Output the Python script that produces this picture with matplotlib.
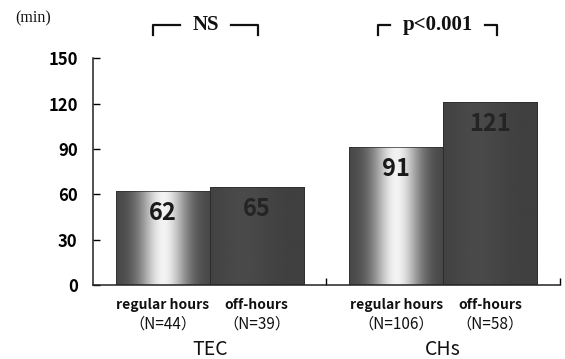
"""
Door-to-treatment time by group and hours, cylinder-shaded bars
"""

import numpy as np
import matplotlib.pyplot as plt
from matplotlib.colors import LinearSegmentedColormap

groups = ['TEC', 'CHs']
hours = ['regular hours', 'off-hours']
counts = [['（N=44）', '（N=39）'], ['（N=106）', '（N=58）']]
minutes = [[62, 65], [91, 121]]
tests = ['NS', 'p<0.001']
y_ticks = [0, 30, 60, 90, 120, 150]

sans = ['Noto Sans CJK JP', 'DejaVu Sans']
serif = ['Liberation Serif', 'DejaVu Serif']

fig = plt.figure(figsize=(5.65, 3.59), dpi=100)
ax = fig.add_axes([0.1646, 0.206, 0.8264, 0.632])

width = 0.403
t = np.linspace(0, 1, 200)
# shading profiles across the bar width (regular = bright highlight, off = dark)
shade_regular = 0.27 + 0.68 * np.exp(-((t - 0.5) / 0.25) ** 2)
shade_off = 0.25 + 0.04 * np.exp(-((t - 0.35) / 0.3) ** 2)
grey = LinearSegmentedColormap.from_list('grey', ['black', 'white'])

for gi, group in enumerate(groups):
    center = gi + 0.5
    for hi in range(len(hours)):
        x = center + (hi - 0.5) * width
        val = minutes[gi][hi]
        bar = ax.bar(x, val, width=width, color='none',
                     edgecolor='#2a2a2a', linewidth=0.5, zorder=3)[0]
        prof = shade_regular if hi == 0 else shade_off
        img = ax.imshow(prof[np.newaxis, :], cmap=grey, vmin=0, vmax=1,
                        extent=[x - width / 2, x + width / 2, 0, val],
                        aspect='auto', interpolation='bicubic', zorder=2)
        img.set_clip_path(bar)
        ax.text(x, val - 14.5, str(val), ha='center', va='center',
                fontsize=17, fontweight='bold', family=sans,
                color='#1a1a1a' if hi == 0 else '#242424', zorder=4)
        ax.text(x, -13, hours[hi], ha='center', va='center', fontsize=10,
                fontweight='bold', family=sans, color='#111')
        ax.text(x, -25.5, counts[gi][hi], ha='center', va='center',
                fontsize=11, family=sans, color='#111')
    ax.text(center, -42.5, group, ha='center', va='center', fontsize=14,
            family=sans, color='#111')

# significance brackets above the groups
bracket_x = [(0.257, 0.707), (1.221, 1.730)]
for (x0, x1), label in zip(bracket_x, tests):
    mid = (x0 + x1) / 2
    half = 0.07 + 0.019 * len(label)
    ax.plot([x0, x0, mid - half], [165.5, 172, 172], color='#111', lw=1.6,
            clip_on=False)
    ax.plot([mid + half, x1, x1], [172, 172, 165.5], color='#111', lw=1.6,
            clip_on=False)
    ax.text(mid, 172, label, ha='center', va='center', fontsize=15,
            fontweight='bold', family=serif, color='#111')

ax.text(-0.257, 176, '(min)', ha='center', va='center', fontsize=11.5,
        family=serif, color='#111')

ax.set_xlim(0, 2)
ax.set_ylim(0, 150)
ax.set_yticks(y_ticks)
ax.set_yticklabels([str(v) for v in y_ticks], fontsize=12,
                   fontweight='bold', family=sans)
ax.set_xticks([1, 2])
ax.set_xticklabels(['', ''])
ax.tick_params(axis='y', direction='in', length=5, width=1, pad=11)
ax.tick_params(axis='x', direction='in', length=5, width=1)
for side in ['top', 'right']:
    ax.spines[side].set_visible(False)
for side in ['left', 'bottom']:
    ax.spines[side].set_linewidth(1.1)
    ax.spines[side].set_color('#222')

fig.savefig('out.png', dpi=100)
